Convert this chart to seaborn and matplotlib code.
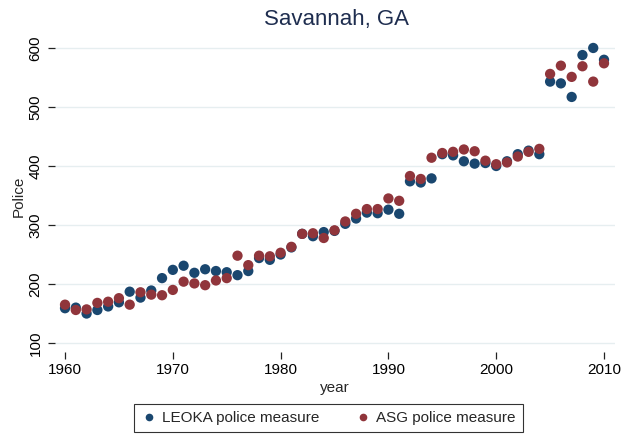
import numpy as np
import pandas as pd
import matplotlib
matplotlib.use("Agg")
import matplotlib.pyplot as plt
import seaborn as sns

years = list(range(1960, 2011))
leoka = [159, 160, 150, 156, 162, 169, 187, 177, 189, 210, 224, 231, 219, 225, 222, 220,
         215, 222, 244, 241, 250, 262, 285, 281, 288, 290, 302, 311, 321, 320, 326, 319,
         374, 372, 379, 420, 418, 408, 404, 405, 400, 408, 420, 426, 420,
         543, 540, 517, 588, 600, 580]
asg = [165, 156, 157, 168, 170, 176, 165, 186, 182, 181, 190, 204, 201, 198, 206, 210,
       248, 232, 248, 247, 253, 263, 285, 286, 278, 291, 306, 319, 327, 327, 345, 341,
       383, 378, 414, 422, 424, 428, 425, 409, 403, 406, 416, 424, 429,
       556, 570, 551, 569, 543, 574]
series_names = ["LEOKA police measure", "ASG police measure"]
colors = ["#1a476f", "#90353b"]
title = "Savannah, GA"

df = pd.DataFrame({
    "year": years * 2,
    "Police": leoka + asg,
    "measure": [series_names[0]] * len(years) + [series_names[1]] * len(years),
})

sns.set_theme(style="white")
plt.rcParams["font.family"] = ["Liberation Sans", "DejaVu Sans"]

fig = plt.figure(figsize=(6.26, 4.38), dpi=100)
ax = fig.add_axes([55 / 626, 1 - 352 / 438, 560 / 626, 312 / 438])

sns.scatterplot(data=df, x="year", y="Police", hue="measure", palette=colors,
                hue_order=series_names, s=55, linewidth=0, ax=ax, legend=False,
                zorder=3)

ax.set_xlim(1959.07, 2011.02)
ax.set_ylim(84.8, 613.5)
ax.set_xticks([1960, 1970, 1980, 1990, 2000, 2010])
ax.set_yticks([100, 200, 300, 400, 500, 600])
for s in ax.spines.values():
    s.set_visible(False)
ax.grid(axis="y", color="#e6eef0", linewidth=1.0, zorder=0)
ax.grid(axis="x", visible=False)
ax.tick_params(axis="both", which="both", length=5, width=0.9, color="#222222",
               labelsize=11, labelcolor="black", left=True, bottom=True)
ax.tick_params(axis="y", pad=4)
ax.tick_params(axis="x", pad=3)
for lbl in ax.get_yticklabels():
    lbl.set_rotation(90)
    lbl.set_va("center")
ax.set_xlabel("year", fontsize=11, labelpad=3)
ax.set_ylabel("Police", fontsize=11, labelpad=2)

fig.text(336 / 626, 1 - 20 / 438, title, ha="center", va="center", fontsize=16,
         color="#1e2d4f")

handles = [plt.Line2D([], [], marker="o", linestyle="", color=c, markersize=5.5,
                      markeredgewidth=0) for c in colors]
leg = fig.legend(handles, series_names, loc="center", ncol=2,
                 bbox_to_anchor=(328.5 / 626, 1 - 418 / 438), frameon=True,
                 fontsize=11, handletextpad=0.35, columnspacing=2.4,
                 borderpad=0.45, handlelength=1.0, fancybox=False)
leg.get_frame().set_edgecolor("black")
leg.get_frame().set_linewidth(0.8)

fig.savefig("out.png", dpi=100, facecolor="white")
